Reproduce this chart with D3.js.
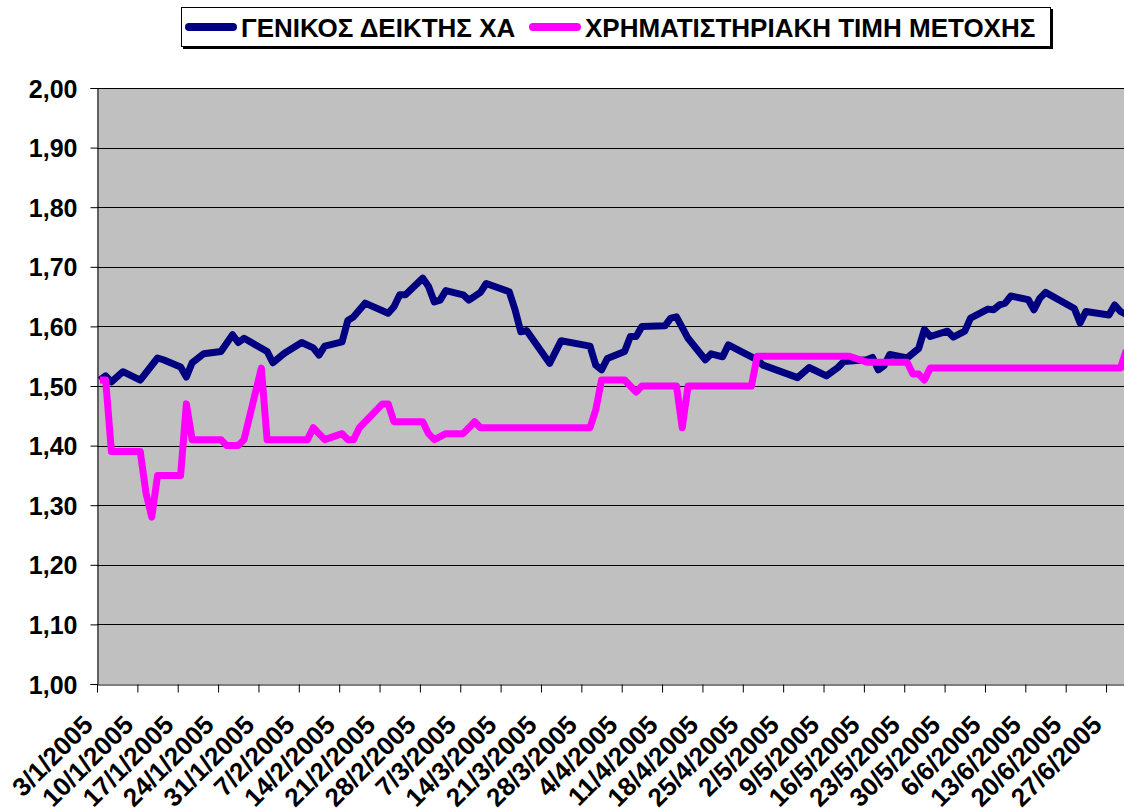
<html>
<head>
<style>
  body { margin: 0; background: #fff; }
  text { font-family: Arial, "Liberation Sans", sans-serif; font-weight: bold; }
</style>
</head>
<body>
<svg id="chart" width="1124" height="812"></svg>
<script src="https://cdn.jsdelivr.net/npm/d3@7"></script>
<script>
// legend names
const seriesNames = ["ΓΕΝΙΚΟΣ ΔΕΙΚΤΗΣ ΧΑ", "ΧΡΗΜΑΤΙΣΤΗΡΙΑΚΗ ΤΙΜΗ ΜΕΤΟΧΗΣ"]

// general index (scaled)
const indexDates = ["3/1","4/1","5/1","7/1","10/1","13/1","14/1","17/1","18/1","19/1","21/1","24/1","26/1","27/1","28/1",
  "1/2","2/2","4/2","7/2","9/2","10/2","11/2","14/2","15/2","16/2","18/2","22/2","23/2","24/2","25/2","28/2",
  "1/3","2/3","3/3","4/3","7/3","8/3","10/3","11/3","15/3","16/3","17/3","18/3","22/3","24/3","29/3","30/3","31/3",
  "1/4","4/4","5/4","6/4","7/4","11/4","12/4","13/4","15/4","18/4","19/4","21/4","22/4","27/4","28/4",
  "4/5","6/5","9/5","11/5","12/5","16/5","17/5","18/5","19/5","20/5","23/5","25/5","26/5","27/5","30/5","31/5",
  "2/6","3/6","6/6","7/6","8/6","9/6","10/6","13/6","14/6","15/6","16/6","21/6","22/6","23/6","27/6","28/6","29/6","30/6"]
const indexValues = [1.51,1.517,1.507,1.524,1.51,1.547,1.544,1.532,1.515,1.539,1.554,1.558,1.586,1.573,1.58,
  1.558,1.539,1.555,1.573,1.564,1.552,1.567,1.574,1.61,1.616,1.639,1.622,1.633,1.653,1.653,1.681,
  1.667,1.641,1.644,1.66,1.653,1.644,1.657,1.672,1.658,1.628,1.591,1.593,1.538,1.576,1.567,1.535,1.527,
  1.546,1.558,1.583,1.583,1.60,1.601,1.614,1.616,1.58,1.544,1.554,1.549,1.569,1.544,1.535,
  1.514,1.531,1.517,1.531,1.541,1.544,1.548,1.527,1.534,1.553,1.547,1.563,1.595,1.583,1.592,1.582,
  1.592,1.614,1.629,1.628,1.636,1.639,1.651,1.645,1.628,1.647,1.657,1.630,1.606,1.625,1.619,1.636,1.625,1.62]

// share price
const priceDates = ["3/1","4/1","5/1","10/1","11/1","12/1","13/1","17/1","18/1","19/1","24/1","25/1","27/1","28/1","31/1",
  "1/2","8/2","9/2","11/2","14/2","15/2","16/2","17/2","21/2","22/2","23/2","28/2",
  "1/3","2/3","4/3","7/3","9/3","10/3","29/3","30/3","31/3",
  "4/4","6/4","7/4","13/4","14/4","15/4","26/4","27/4",
  "13/5","16/5","23/5","24/5","25/5","26/5","27/5","29/6","30/6"]
const priceValues = [1.51,1.51,1.39,1.39,1.32,1.28,1.35,1.35,1.47,1.41,1.41,1.40,1.40,1.41,1.53,
  1.41,1.41,1.43,1.41,1.42,1.41,1.41,1.43,1.47,1.47,1.44,1.44,
  1.42,1.41,1.42,1.42,1.44,1.43,1.43,1.46,1.51,
  1.51,1.49,1.50,1.50,1.43,1.50,1.50,1.55,
  1.55,1.54,1.54,1.52,1.52,1.51,1.53,1.53,1.56]

const yTicks = [1.0,1.1,1.2,1.3,1.4,1.5,1.6,1.7,1.8,1.9,2.0]
const colors = ["#000080", "#ff00ff"]

const parseDay = d3.timeParse("%d/%m/%Y")
const toPoints = (dates, values) => dates.map((d, i) => ({
  date: d3.timeHour.offset(parseDay(d + "/2005"), 12), value: values[i]
}))
const series = [toPoints(indexDates, indexValues), toPoints(priceDates, priceValues)]

const svg = d3.select("#chart")
const plotLeft = 97, plotTop = 88, plotBottom = 684
const dayW = 5.766
const start = new Date(2005, 0, 3), end = new Date(2005, 6, 1)

const x = d3.scaleTime().domain([start, end]).range([plotLeft, plotLeft + d3.timeDay.count(start, end) * dayW])
const y = d3.scaleLinear().domain([1, 2]).range([plotBottom, plotTop])

// plot area
svg.append("rect")
  .attr("x", plotLeft).attr("y", plotTop)
  .attr("width", x.range()[1] - plotLeft).attr("height", plotBottom - plotTop)
  .attr("fill", "#c0c0c0")

// gridlines
svg.append("g").selectAll("line").data(yTicks.slice(1)).enter().append("line")
  .attr("x1", plotLeft).attr("x2", x.range()[1])
  .attr("y1", d => Math.round(y(d)) + 0.5).attr("y2", d => Math.round(y(d)) + 0.5)
  .attr("stroke", "#000").attr("stroke-width", 1)

// y axis
const fmt = d => d3.format(".2f")(d).replace(".", ",")
const yAxis = svg.append("g").attr("transform", `translate(${plotLeft + 0.5},0)`)
  .call(d3.axisLeft(y).tickValues(yTicks).tickFormat(fmt).tickSize(7).tickPadding(13))
yAxis.select(".domain").attr("stroke", "#000")
yAxis.selectAll("text").style("font-size", "25px").attr("fill", "#000").attr("dy", "0.36em")

// x axis
const ticks = d3.timeMonday.range(start, end)
const xAxis = svg.append("g").attr("transform", `translate(0,${plotBottom + 0.5})`)
  .call(d3.axisBottom(x).tickValues(ticks).tickFormat(d3.timeFormat("%-d/%-m/%Y")).tickSize(8).tickSizeOuter(0))
xAxis.select(".domain").attr("stroke", "#000")
xAxis.selectAll("text")
  .style("font-size", "26px").attr("fill", "#000")
  .attr("text-anchor", "end")
  .attr("dy", null).attr("y", null)
  .attr("transform", "translate(-3,42) rotate(-45)")

// lines
const line = d3.line().x(d => x(d.date)).y(d => y(d.value))
svg.append("g").selectAll("path").data(series).enter().append("path")
  .attr("d", line)
  .attr("fill", "none")
  .attr("stroke", (d, i) => colors[i])
  .attr("stroke-width", 7)
  .attr("stroke-linejoin", "round")

// legend
const legend = svg.append("g")
legend.append("rect").attr("x", 183).attr("y", 9).attr("width", 870).attr("height", 40).attr("fill", "#000")
legend.append("rect").attr("x", 181.5).attr("y", 7.5).attr("width", 869).attr("height", 39)
  .attr("fill", "#fff").attr("stroke", "#000")
const legX = [185, 529]
seriesNames.forEach((name, i) => {
  legend.append("line")
    .attr("x1", legX[i] + 4).attr("x2", legX[i] + 48).attr("y1", 27).attr("y2", 27)
    .attr("stroke", colors[i]).attr("stroke-width", 8).attr("stroke-linecap", "round")
  legend.append("text")
    .attr("x", legX[i] + 56).attr("y", 37)
    .style("font-size", "26px")
    .text(name)
})
</script>
</body>
</html>
